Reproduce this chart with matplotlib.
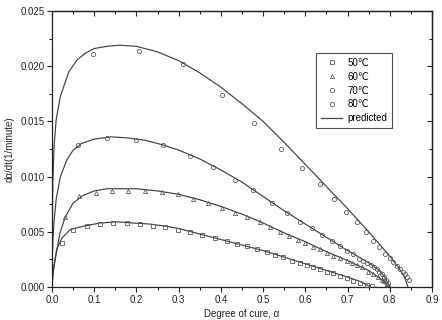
import matplotlib
matplotlib.use('Agg')
import matplotlib.pyplot as plt
from matplotlib.ticker import MultipleLocator
from matplotlib.lines import Line2D

plt.rcParams['font.family'] = ['Liberation Sans', 'DejaVu Sans']

# ---------------- data ----------------
legend_labels = ['50\u2103', '60\u2103', '70\u2103', '80\u2103', 'predicted']

# measured points
a50 = [0.023, 0.050, 0.083, 0.114, 0.145, 0.178, 0.209, 0.239, 0.268, 0.299, 0.327, 0.355,
       0.386, 0.414, 0.438, 0.462, 0.486, 0.509, 0.528, 0.547, 0.569, 0.588, 0.604, 0.618,
       0.635, 0.652, 0.666, 0.682, 0.699, 0.713, 0.730, 0.746, 0.758]
r50 = [0.0040, 0.0052, 0.0055, 0.0057, 0.0058, 0.0058, 0.0057, 0.0055, 0.0054, 0.0052, 0.0050, 0.0047,
       0.0044, 0.0042, 0.0039, 0.0037, 0.0034, 0.0032, 0.0029, 0.0027, 0.0024, 0.0022, 0.0020, 0.0018,
       0.0016, 0.0014, 0.0013, 0.0010, 0.0008, 0.0005, 0.0004, 0.0002, 0.0001]

a60 = [0.031, 0.064, 0.104, 0.142, 0.180, 0.220, 0.260, 0.299, 0.334, 0.370, 0.403, 0.434,
       0.463, 0.493, 0.517, 0.540, 0.562, 0.583, 0.600, 0.618, 0.635, 0.652, 0.666, 0.682,
       0.699, 0.711, 0.722, 0.735, 0.749, 0.761, 0.773, 0.782, 0.787, 0.794, 0.797]
r60 = [0.0063, 0.0082, 0.0085, 0.0087, 0.0087, 0.0087, 0.0086, 0.0084, 0.0080, 0.0076, 0.0072, 0.0067,
       0.0063, 0.0059, 0.0054, 0.0050, 0.0046, 0.0043, 0.0040, 0.0036, 0.0034, 0.0031, 0.0028, 0.0026,
       0.0024, 0.0022, 0.0020, 0.0018, 0.0014, 0.0012, 0.0009, 0.0006, 0.0005, 0.0003, 0.0001]

a70 = [0.062, 0.130, 0.199, 0.263, 0.327, 0.382, 0.434, 0.476, 0.521, 0.557, 0.588, 0.616,
       0.640, 0.663, 0.682, 0.699, 0.713, 0.728, 0.737, 0.746, 0.756, 0.763, 0.770, 0.775,
       0.782, 0.787, 0.792, 0.796]
r70 = [0.0129, 0.0135, 0.0133, 0.0129, 0.0119, 0.0109, 0.0097, 0.0088, 0.0076, 0.0067, 0.0059, 0.0053,
       0.0047, 0.0042, 0.0037, 0.0033, 0.0030, 0.0025, 0.0024, 0.0022, 0.0020, 0.0018, 0.0016, 0.0014,
       0.0012, 0.0009, 0.0006, 0.0004]

a80 = [0.097, 0.206, 0.310, 0.403, 0.479, 0.543, 0.592, 0.635, 0.668, 0.697, 0.722, 0.744,
       0.761, 0.775, 0.789, 0.800, 0.808, 0.817, 0.825, 0.831, 0.836, 0.841, 0.845]
r80 = [0.0211, 0.0214, 0.0202, 0.0174, 0.0149, 0.0125, 0.0108, 0.0093, 0.0080, 0.0068, 0.0059, 0.0050,
       0.0042, 0.0036, 0.0030, 0.0026, 0.0023, 0.0019, 0.0016, 0.0014, 0.0012, 0.0009, 0.0006]

# predicted curves
p50_a = [0, 0.003, 0.011, 0.023, 0.043, 0.074, 0.114, 0.154, 0.192, 0.232, 0.27, 0.30, 0.35,
         0.40, 0.45, 0.50, 0.55, 0.60, 0.65, 0.70, 0.73, 0.755]
p50_r = [0, 0.0015, 0.0034, 0.0044, 0.0052, 0.0055, 0.0058, 0.0059, 0.0058, 0.0057, 0.0055, 0.0053, 0.0048,
         0.0043, 0.0038, 0.0033, 0.0027, 0.0021, 0.0015, 0.0009, 0.0005, 0.0]

p60_a = [0, 0.002, 0.007, 0.019, 0.031, 0.05, 0.074, 0.10, 0.13, 0.16, 0.20, 0.25, 0.30, 0.35,
         0.40, 0.45, 0.50, 0.55, 0.60, 0.65, 0.70, 0.75, 0.78, 0.797]
p60_r = [0, 0.0011, 0.0024, 0.0049, 0.0063, 0.0076, 0.0083, 0.0087, 0.0089, 0.0089, 0.0089, 0.0087, 0.0084, 0.0079,
         0.0073, 0.0066, 0.0058, 0.0049, 0.0041, 0.0032, 0.0024, 0.0015, 0.0007, 0.0]

p70_a = [0, 0.0005, 0.002, 0.005, 0.01, 0.02, 0.035, 0.05, 0.07, 0.10, 0.14, 0.18, 0.22, 0.26,
         0.30, 0.35, 0.40, 0.45, 0.50, 0.55, 0.60, 0.65, 0.70, 0.75, 0.775, 0.79, 0.80]
p70_r = [0, 0.0025, 0.0042, 0.0060, 0.0080, 0.0100, 0.0115, 0.0124, 0.0130, 0.0134, 0.0136, 0.0135, 0.0133, 0.0129,
         0.0124, 0.0116, 0.0106, 0.0095, 0.0082, 0.0069, 0.0057, 0.0045, 0.0033, 0.0022, 0.0015, 0.0008, 0.0]

p80_a = [0, 0.0005, 0.002, 0.005, 0.01, 0.02, 0.04, 0.06, 0.08, 0.10, 0.13, 0.16, 0.20, 0.25,
         0.30, 0.35, 0.40, 0.45, 0.50, 0.55, 0.60, 0.65, 0.70, 0.75, 0.80, 0.82, 0.835, 0.843]
p80_r = [0, 0.0055, 0.0095, 0.0128, 0.0152, 0.0173, 0.0195, 0.0206, 0.0212, 0.0216, 0.0218, 0.0219, 0.0218, 0.0213,
         0.0205, 0.0194, 0.0181, 0.0166, 0.0150, 0.0131, 0.0111, 0.0091, 0.0071, 0.0050, 0.0028, 0.0018, 0.0009, 0.0]

x_ticks = [0.0, 0.1, 0.2, 0.3, 0.4, 0.5, 0.6, 0.7, 0.8, 0.9]
y_ticks = [0.000, 0.005, 0.010, 0.015, 0.020, 0.025]

# ---------------- plot ----------------
W, H = 442, 320
fig = plt.figure(figsize=(W / 100, H / 100), dpi=100)
ax = fig.add_axes([52 / W, 33 / H, 380 / W, 276 / H])

line_c = '#404040'
mk_c = '#5a5a5a'
mk_kw = dict(linestyle='none', markerfacecolor='none', markeredgecolor=mk_c,
             markeredgewidth=0.6, markersize=3.0)

for pa, pr in [(p50_a, p50_r), (p60_a, p60_r), (p70_a, p70_r), (p80_a, p80_r)]:
    ax.plot(pa, pr, color=line_c, lw=0.85, zorder=2)

ax.plot(a50, r50, marker='s', **mk_kw, zorder=3)
ax.plot(a60, r60, marker='^', **mk_kw, zorder=3)
ax.plot(a70, r70, marker='o', **mk_kw, zorder=3)
ax.plot(a80, r80, marker='o', **mk_kw, zorder=3)

ax.set_xlim(0, 0.9)
ax.set_ylim(0, 0.025)
ax.set_xticks(x_ticks)
ax.set_yticks(y_ticks)
ax.set_xticklabels(['%.1f' % v for v in x_ticks])
ax.set_yticklabels(['%.3f' % v for v in y_ticks])
ax.xaxis.set_minor_locator(MultipleLocator(0.05))
ax.yaxis.set_minor_locator(MultipleLocator(0.0025))
ax.tick_params(which='both', direction='out', labelsize=7, colors='#222222', width=0.8)
ax.tick_params(which='major', length=3.5, pad=2)
ax.tick_params(which='minor', length=2)

# mirrored inward ticks on top/right
axt = ax.secondary_xaxis('top')
axt.set_xticks(x_ticks)
axt.xaxis.set_minor_locator(MultipleLocator(0.05))
axt.tick_params(which='both', direction='in', labeltop=False, width=0.8, colors='#222222')
axt.tick_params(which='major', length=3.5)
axt.tick_params(which='minor', length=2)
axr = ax.secondary_yaxis('right')
axr.set_yticks(y_ticks)
axr.yaxis.set_minor_locator(MultipleLocator(0.0025))
axr.tick_params(which='both', direction='in', labelright=False, width=0.8, colors='#222222')
axr.tick_params(which='major', length=3.5)
axr.tick_params(which='minor', length=2)
for a in (ax, axt, axr):
    for s in a.spines.values():
        s.set_linewidth(0.9)
        s.set_color('#222222')

ax.set_xlabel('Degree of cure, \u03b1', fontsize=7, labelpad=3, color='#222222')
ax.set_ylabel('d\u03b1/dt(1/minute)', fontsize=7, labelpad=4, color='#222222')

handles = [
    Line2D([], [], marker='s', **mk_kw),
    Line2D([], [], marker='^', **mk_kw),
    Line2D([], [], marker='o', **mk_kw),
    Line2D([], [], marker='o', **mk_kw),
    Line2D([], [], color=line_c, lw=0.85),
]
leg = ax.legend(handles, legend_labels, loc='upper left', bbox_to_anchor=(0.695, 0.848),
                fontsize=7, frameon=True, fancybox=False, edgecolor='#222222',
                handlelength=2.2, handletextpad=0.5, labelspacing=0.4,
                borderpad=0.5, borderaxespad=0)
leg.get_frame().set_linewidth(0.8)

fig.savefig('out.png', dpi=100)
